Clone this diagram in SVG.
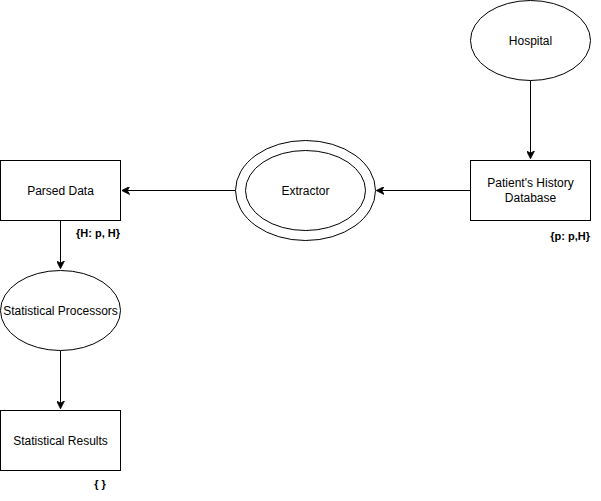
<svg xmlns="http://www.w3.org/2000/svg" width="601" height="501" viewBox="0 0 601 501">
  <style>
    .shape { fill: #ffffff; stroke: #000000; stroke-width: 1; }
    .edge { fill: none; stroke: #000000; stroke-width: 1; }
    .label { font-family: "Liberation Sans", Arial, sans-serif; font-size: 12px; fill: #000000; text-anchor: middle; }
    .note { font-family: "Liberation Sans", Arial, sans-serif; font-size: 11px; font-weight: bold; fill: #000000; }
  </style>
  <defs>
    <marker id="arrow" viewBox="0 0 10 10" refX="9" refY="5" markerWidth="8" markerHeight="8" markerUnits="userSpaceOnUse" orient="auto">
      <path d="M 0 0 L 10 5 L 0 10 L 3 5 Z" fill="#000000" stroke="#000000" stroke-width="1"/>
    </marker>
  </defs>
  <rect width="601" height="501" fill="#ffffff"/>

  <g id="connectors">
    <path class="edge" d="M 530.5 80.5 L 530.5 158" marker-end="url(#arrow)"/>
    <path class="edge" d="M 470.5 190.5 L 377 190.5" marker-end="url(#arrow)"/>
    <path class="edge" d="M 235.5 190.5 L 122.5 190.5" marker-end="url(#arrow)"/>
    <path class="edge" d="M 60.5 220.5 L 60.5 268" marker-end="url(#arrow)"/>
    <path class="edge" d="M 60.5 350.5 L 60.5 408" marker-end="url(#arrow)"/>
  </g>

  <g id="hospital">
    <ellipse class="shape" cx="530.5" cy="40.5" rx="60" ry="40"/>
    <text class="label" x="530.5" y="44.5">Hospital</text>
  </g>

  <g id="patients-history-database">
    <rect class="shape" x="470.5" y="160.5" width="120" height="60"/>
    <text class="label" x="530.5" y="186.5">Patient's History</text>
    <text class="label" x="530.5" y="201.5">Database</text>
    <text class="note" x="590" y="240" text-anchor="end">{p: p,H}</text>
  </g>

  <g id="extractor">
    <ellipse class="shape" cx="305.5" cy="190.5" rx="70" ry="50"/>
    <ellipse class="shape" cx="305.5" cy="190.5" rx="60" ry="40"/>
    <text class="label" x="305.5" y="194.5">Extractor</text>
  </g>

  <g id="parsed-data">
    <rect class="shape" x="0.5" y="160.5" width="120" height="60"/>
    <text class="label" x="60.5" y="194.5">Parsed Data</text>
    <text class="note" x="76" y="237">{H: p, H}</text>
  </g>

  <g id="statistical-processors">
    <ellipse class="shape" cx="60.5" cy="310.5" rx="60" ry="40"/>
    <text class="label" x="60.5" y="314.5">Statistical Processors</text>
  </g>

  <g id="statistical-results">
    <rect class="shape" x="0.5" y="410.5" width="120" height="60"/>
    <text class="label" x="60.5" y="444.5">Statistical Results</text>
    <text class="note" x="100" y="488" text-anchor="middle">{ }</text>
  </g>
</svg>
